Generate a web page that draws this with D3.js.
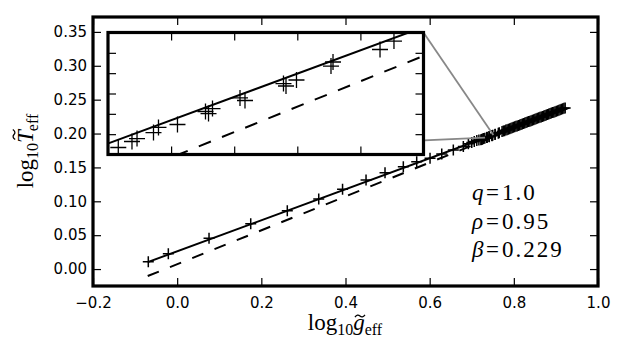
<!DOCTYPE html>
<html><head><meta charset="utf-8">
<script src="https://cdn.jsdelivr.net/npm/d3@7"></script>
<style>body{margin:0;background:#fff}svg{display:block}</style>
</head><body>
<svg id="c" width="630" height="348"></svg>
<script>
// ---- data ----
const xTicks = [-0.2, 0.0, 0.2, 0.4, 0.6, 0.8, 1.0];
const xTickLabels = ["\u22120.2", "0.0", "0.2", "0.4", "0.6", "0.8", "1.0"];
const yTicks = [0.00, 0.05, 0.10, 0.15, 0.20, 0.25, 0.30, 0.35];
const yTickLabels = ["0.00", "0.05", "0.10", "0.15", "0.20", "0.25", "0.30", "0.35"];
const xDomain = [-0.2, 1.0];
const yDomain = [-0.025, 0.372];

const ptsX = [-0.0686, -0.021, 0.0757, 0.1748, 0.2617, 0.3364, 0.393, 0.4488, 0.4939, 0.5374, 0.5692, 0.6009, 0.6287, 0.6562, 0.680,
  0.692, 0.700, 0.706, 0.712, 0.717,
  0.72163, 0.72380, 0.72460, 0.72721, 0.72800, 0.73101, 0.73545, 0.73593, 0.73656, 0.74092, 0.74171, 0.74781, 0.74821, 0.74987, 0.75534, 0.75566, 0.76311, 0.76532,
  0.772, 0.775, 0.778, 0.781, 0.784, 0.787, 0.790, 0.793, 0.796, 0.799, 0.802, 0.805, 0.808, 0.811, 0.814, 0.817, 0.820, 0.823, 0.826, 0.829, 0.832, 0.835, 0.838, 0.841, 0.844, 0.847, 0.850, 0.853, 0.856, 0.859, 0.862, 0.865, 0.868, 0.871, 0.874, 0.877, 0.880, 0.883, 0.886, 0.889, 0.892, 0.895, 0.898, 0.901, 0.904, 0.907, 0.910, 0.913, 0.916, 0.919, 0.922];
const ptsY = [0.0108, 0.0226, 0.0453, 0.0669, 0.0861, 0.1034, 0.1177, 0.1315, 0.1422, 0.1511, 0.1584, 0.1635, 0.1699, 0.1758, 0.1807,
  0.1848, 0.1866, 0.1882, 0.1896, 0.1905,
  0.19069, 0.19128, 0.19157, 0.19216, 0.19266, 0.19295, 0.19423, 0.19403, 0.19452, 0.19556, 0.19531, 0.19698, 0.19674, 0.19733, 0.19870, 0.19910, 0.20033, 0.20116,
  0.2030, 0.2037, 0.2043, 0.2051, 0.2057, 0.2064, 0.2071, 0.2078, 0.2085, 0.2092, 0.2099, 0.2106, 0.2113, 0.2120, 0.2127, 0.2134, 0.2141, 0.2148, 0.2155, 0.2162, 0.2169, 0.2176, 0.2183, 0.2190, 0.2197, 0.2204, 0.2211, 0.2218, 0.2225, 0.2232, 0.2239, 0.2246, 0.2253, 0.2260, 0.2267, 0.2274, 0.2281, 0.2288, 0.2295, 0.2302, 0.2309, 0.2316, 0.2323, 0.2330, 0.2337, 0.2344, 0.2351, 0.2358, 0.2365, 0.2372, 0.2378];

// fitted relation (solid) and von Zeipel relation (dashed)
const lineX = [-0.07, 0.925];
const fitY = [0.01017, 0.23803];
const vzY = [-0.0103, 0.23845];

// inset
const insetXDomain = [0.72, 0.77];
const insetYDomain = [0.190, 0.202];
const insetXTicks = [0.73, 0.74, 0.75, 0.76];
const insetYTicks = [0.192, 0.194, 0.196, 0.198, 0.200];
const zoomLowerLeft = [0.7316, 0.1939];
const zoomUpperRight = [0.7513, 0.1979];

const paramNames = ["q", "\u03C1", "\u03B2"];
const paramValues = ["1.0", "0.95", "0.229"];

// ---- drawing ----
const svg = d3.select("#c");
const M = {l: 93, r: 598, t: 17, b: 286};
const I = {l: 108, r: 423.5, t: 32.5, b: 154.5};
const x = d3.scaleLinear().domain(xDomain).range([M.l, M.r]);
const y = d3.scaleLinear().domain(yDomain).range([M.b, M.t]);
const xi = d3.scaleLinear().domain(insetXDomain).range([I.l, I.r]);
const yi = d3.scaleLinear().domain(insetYDomain).range([I.b, I.t]);

svg.append("rect").attr("width", 630).attr("height", 348).attr("fill", "#fff");

const defs = svg.append("defs");
defs.append("clipPath").attr("id", "mclip").append("rect")
  .attr("x", M.l).attr("y", M.t).attr("width", M.r - M.l).attr("height", M.b - M.t);
defs.append("clipPath").attr("id", "iclip").append("rect")
  .attr("x", I.l).attr("y", I.t).attr("width", I.r - I.l).attr("height", I.b - I.t);

function styleAxis(g) {
  g.select(".domain").remove();
  g.attr("font-family", "DejaVu Sans").attr("font-size", 15);
  g.selectAll(".tick line").attr("stroke", "#000").attr("stroke-width", 1.2);
  g.selectAll("text").attr("fill", "#000");
}

// main axes
const tick = 8;
svg.append("g").attr("transform", `translate(0,${M.b})`)
  .call(d3.axisBottom(x).tickValues(xTicks).tickFormat((d, i) => xTickLabels[i]).tickSizeInner(-tick).tickSizeOuter(0).tickPadding(11))
  .call(styleAxis);
svg.append("g").attr("transform", `translate(0,${M.t})`)
  .call(d3.axisTop(x).tickValues(xTicks).tickFormat("").tickSizeInner(-tick).tickSizeOuter(0))
  .call(styleAxis);
svg.append("g").attr("transform", `translate(${M.l},0)`)
  .call(d3.axisLeft(y).tickValues(yTicks).tickFormat((d, i) => yTickLabels[i]).tickSizeInner(-tick).tickSizeOuter(0).tickPadding(6))
  .call(styleAxis);
svg.append("g").attr("transform", `translate(${M.r},0)`)
  .call(d3.axisRight(y).tickValues(yTicks).tickFormat("").tickSizeInner(-tick).tickSizeOuter(0))
  .call(styleAxis);

const lineMain = d3.line().x(d => x(d[0])).y(d => y(d[1]));
const mg = svg.append("g").attr("clip-path", "url(#mclip)");
mg.append("path").attr("d", lineMain(lineX.map((v, i) => [v, fitY[i]])))
  .attr("fill", "none").attr("stroke", "#000").attr("stroke-width", 2);
mg.append("path").attr("d", lineMain(lineX.map((v, i) => [v, vzY[i]])))
  .attr("fill", "none").attr("stroke", "#000").attr("stroke-width", 2).attr("stroke-dasharray", "12,12");
const plus = (s) => `M${-s},0H${s}M0,${-s}V${s}`;
mg.selectAll("path.pt").data(ptsX.map((v, i) => [v, ptsY[i]])).join("path")
  .attr("class", "pt")
  .attr("transform", d => `translate(${x(d[0])},${y(d[1])})`)
  .attr("d", plus(5.5)).attr("stroke", "#000").attr("stroke-width", 1.5).attr("fill", "none");

// connector lines
svg.append("line").attr("x1", I.l).attr("y1", I.b).attr("x2", x(zoomLowerLeft[0])).attr("y2", y(zoomLowerLeft[1]))
  .attr("stroke", "#888").attr("stroke-width", 1.8);
svg.append("line").attr("x1", I.r).attr("y1", I.t).attr("x2", x(zoomUpperRight[0])).attr("y2", y(zoomUpperRight[1]))
  .attr("stroke", "#888").attr("stroke-width", 1.8);

// main frame
svg.append("rect").attr("x", M.l).attr("y", M.t).attr("width", M.r - M.l).attr("height", M.b - M.t)
  .attr("fill", "none").attr("stroke", "#000").attr("stroke-width", 3.2);

// inset
svg.append("rect").attr("x", I.l).attr("y", I.t).attr("width", I.r - I.l).attr("height", I.b - I.t).attr("fill", "#fff");
const lineIn = d3.line().x(d => xi(d[0])).y(d => yi(d[1]));
const ig = svg.append("g").attr("clip-path", "url(#iclip)");
ig.append("path").attr("d", lineIn(lineX.map((v, i) => [v, fitY[i]])))
  .attr("fill", "none").attr("stroke", "#000").attr("stroke-width", 2);
ig.append("path").attr("d", lineIn(lineX.map((v, i) => [v, vzY[i]])))
  .attr("fill", "none").attr("stroke", "#000").attr("stroke-width", 2).attr("stroke-dasharray", "13,12")
  .attr("stroke-dashoffset", 3);
ig.selectAll("path.ipt").data(ptsX.map((v, i) => [v, ptsY[i]])
    .filter(d => d[0] >= insetXDomain[0] && d[0] <= insetXDomain[1]))
  .join("path").attr("class", "ipt")
  .attr("transform", d => `translate(${xi(d[0])},${yi(d[1])})`)
  .attr("d", plus(8)).attr("stroke", "#000").attr("stroke-width", 1.3).attr("fill", "none");
svg.append("g").attr("transform", `translate(0,${I.b})`)
  .call(d3.axisBottom(xi).tickValues(insetXTicks).tickFormat("").tickSizeInner(-tick).tickSizeOuter(0)).call(styleAxis);
svg.append("g").attr("transform", `translate(0,${I.t})`)
  .call(d3.axisTop(xi).tickValues(insetXTicks).tickFormat("").tickSizeInner(-tick).tickSizeOuter(0)).call(styleAxis);
svg.append("g").attr("transform", `translate(${I.l},0)`)
  .call(d3.axisLeft(yi).tickValues(insetYTicks).tickFormat("").tickSizeInner(-tick).tickSizeOuter(0)).call(styleAxis);
svg.append("g").attr("transform", `translate(${I.r},0)`)
  .call(d3.axisRight(yi).tickValues(insetYTicks).tickFormat("").tickSizeInner(-tick).tickSizeOuter(0)).call(styleAxis);
svg.append("rect").attr("x", I.l).attr("y", I.t).attr("width", I.r - I.l).attr("height", I.b - I.t)
  .attr("fill", "none").attr("stroke", "#000").attr("stroke-width", 3.2);

// math labels
function mathLabel(g, pieces) {
  let cx = 0;
  pieces.forEach(p => {
    const t = g.append("text").attr("x", cx).attr("y", p.dy || 0)
      .attr("font-family", "Liberation Serif").attr("font-size", p.size)
      .attr("font-style", p.italic ? "italic" : "normal").text(p.t);
    const w = t.node().getComputedTextLength();
    if (p.tilde) {
      g.append("path")
        .attr("d", `M${cx + w / 2 - 5 + (p.tildeDx || 0)},${p.tildeY + 1.2} q2.5,-3.5 5,-1.2 t5,-1.2`)
        .attr("fill", "none").attr("stroke", "#000").attr("stroke-width", 1.3);
    }
    cx += w + (p.gap || 0);
  });
  return cx;
}
const xl = svg.append("g");
const xw = mathLabel(xl, [
  {t: "log", size: 23},
  {t: "10", size: 16, dy: 5},
  {t: "g", size: 23, italic: true, tilde: true, tildeY: -14, tildeDx: 1},
  {t: "eff", size: 16, dy: 5}
]);
xl.attr("transform", `translate(${345 - xw / 2},330)`);

const yl = svg.append("g");
const yw = mathLabel(yl, [
  {t: "log", size: 23},
  {t: "10", size: 16, dy: 5},
  {t: "T", size: 23, italic: true, tilde: true, tildeY: -19, tildeDx: 2, gap: -1},
  {t: "eff", size: 16, dy: 5}
]);
yl.attr("transform", `translate(33,${151 + yw / 2}) rotate(-90)`);

// parameter annotation
paramNames.forEach((n, i) => {
  const by = 200 + i * 28.5;
  svg.append("text").attr("x", 472).attr("y", by).attr("font-family", "Liberation Serif")
    .attr("font-size", 23).attr("font-style", "italic").text(n);
  svg.append("text").attr("x", 486).attr("y", by).attr("font-family", "Liberation Serif")
    .attr("font-size", 23).text("=");
  svg.append("text").attr("x", 502).attr("y", by).attr("font-family", "Liberation Serif")
    .attr("font-size", 23).attr("letter-spacing", 2).text(paramValues[i]);
});
</script>
</body></html>
